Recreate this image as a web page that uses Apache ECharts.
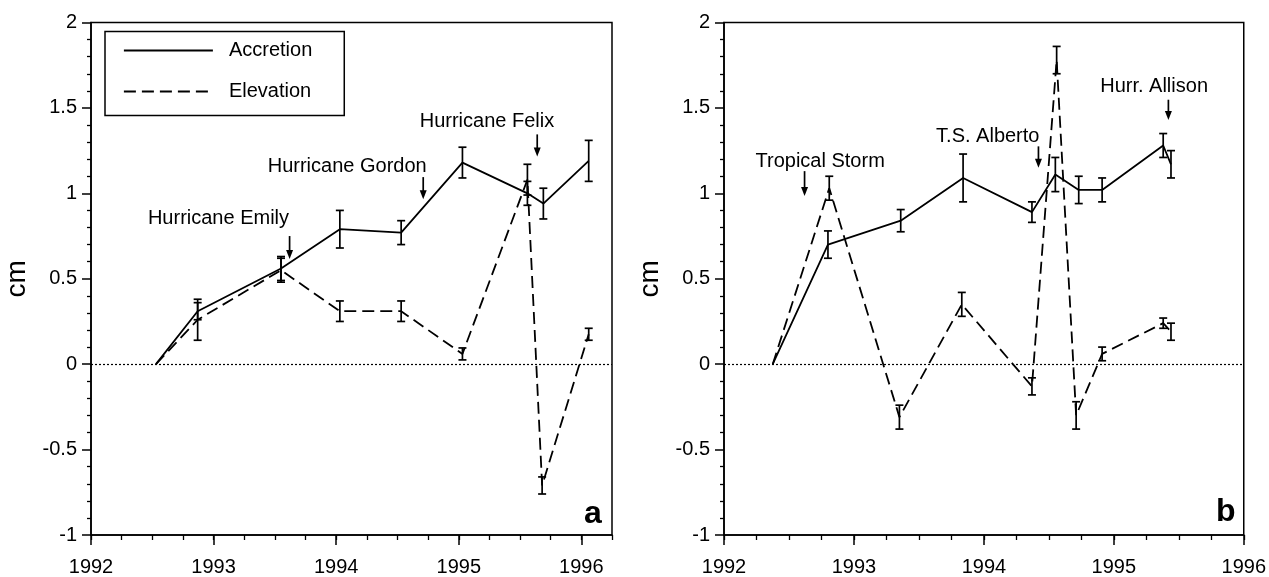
<!DOCTYPE html>
<html>
<head>
<meta charset="utf-8">
<script src="https://cdn.jsdelivr.net/npm/echarts@6/dist/echarts.min.js"></script>
<style>
html,body{margin:0;padding:0;background:#fff;}
#chart{width:1269px;height:577px;}
</style>
</head>
<body>
<div id="chart"></div>
<script>
// ---------- DATA ----------
const yearTicks = [1992, 1993, 1994, 1995, 1996];
const seriesNames = ['Accretion', 'Elevation'];

// Panel a
const accA_years = [1992.53, 1992.87, 1993.55, 1994.03, 1994.53, 1995.03, 1995.56, 1995.69, 1996.06];
const accA_vals  = [0, 0.31, 0.56, 0.79, 0.77, 1.18, 1.00, 0.94, 1.19];
const accA_err   = [0, 0.05, 0.07, 0.11, 0.07, 0.09, 0.07, 0.09, 0.12];
const elevA_years = [1992.53, 1992.87, 1993.55, 1994.03, 1994.53, 1995.03, 1995.56, 1995.68, 1996.06];
const elevA_vals  = [0, 0.26, 0.55, 0.31, 0.31, 0.06, 1.08, -0.71, 0.175];
const elevA_err   = [0, 0.12, 0.07, 0.06, 0.06, 0.035, 0.09, 0.05, 0.035];

// Panel b
const accB_years = [1992.375, 1992.80, 1993.36, 1993.84, 1994.37, 1994.55, 1994.73, 1994.91, 1995.38, 1995.44];
const accB_vals  = [0, 0.70, 0.84, 1.09, 0.89, 1.11, 1.02, 1.02, 1.28, 1.17];
const accB_err   = [0, 0.08, 0.065, 0.14, 0.06, 0.10, 0.08, 0.07, 0.07, 0.08];
const elevB_years = [1992.375, 1992.81, 1993.35, 1993.83, 1994.37, 1994.56, 1994.71, 1994.91, 1995.38, 1995.44];
const elevB_vals  = [0, 1.03, -0.31, 0.35, -0.13, 1.78, -0.30, 0.06, 0.24, 0.19];
const elevB_err   = [0, 0.07, 0.07, 0.07, 0.05, 0.08, 0.08, 0.04, 0.03, 0.05];

// Annotations: [arrowX, arrowTopY, arrowTipY, textX, textY] in data units
const annA_labels = ['Hurricane Emily', 'Hurricane Gordon', 'Hurricane Felix'];
const annA_pos = [
  [1993.62, 0.75, 0.615, 1993.04, 0.85],
  [1994.71, 1.095, 0.965, 1994.09, 1.16],
  [1995.64, 1.345, 1.215, 1995.23, 1.42]
];
const annB_labels = ['Tropical Storm', 'T.S. Alberto', 'Hurr. Allison'];
const annB_pos = [
  [1992.62, 1.13, 0.985, 1992.74, 1.185],
  [1994.42, 1.275, 1.15, 1994.03, 1.335],
  [1995.42, 1.548, 1.43, 1995.31, 1.625]
];

// ---------- BUILD ----------
const FONT = '"Liberation Sans", Arial, sans-serif';
const zip = (xs, ys) => xs.map((x, i) => [x, ys[i]]);
const zip3 = (xs, ys, es) => xs.map((x, i) => [x, ys[i], es[i]]);

function errRender(params, api) {
  const e = api.value(2);
  if (!(e > 0)) return null;
  const x = api.value(0), v = api.value(1);
  const t = api.coord([x, v + e]);
  const b = api.coord([x, v - e]);
  const w = 4;
  const st = { stroke: '#000', lineWidth: 1.7 };
  return {
    type: 'group',
    children: [
      { type: 'line', shape: { x1: t[0], y1: t[1], x2: b[0], y2: b[1] }, style: st },
      { type: 'line', shape: { x1: t[0] - w, y1: t[1], x2: t[0] + w, y2: t[1] }, style: st },
      { type: 'line', shape: { x1: b[0] - w, y1: b[1], x2: b[0] + w, y2: b[1] }, style: st }
    ]
  };
}

function annRender(labels) {
  return function (params, api) {
    const a = api.coord([api.value(0), api.value(1)]);
    const tip = api.coord([api.value(0), api.value(2)]);
    const tp = api.coord([api.value(3), api.value(4)]);
    return {
      type: 'group',
      children: [
        { type: 'line', shape: { x1: a[0], y1: a[1], x2: tip[0], y2: tip[1] - 7 }, style: { stroke: '#000', lineWidth: 1.7 } },
        { type: 'polygon', shape: { points: [[tip[0] - 3.5, tip[1] - 9], [tip[0] + 3.5, tip[1] - 9], [tip[0], tip[1]]] }, style: { fill: '#000' } },
        { type: 'text', style: { text: labels[params.dataIndex], x: tp[0], y: tp[1], align: 'center', verticalAlign: 'middle', font: '20px ' + FONT, fill: '#000' } }
      ]
    };
  };
}

const gridTop = 22.5, gridH = 515.5;
const grids = [
  { left: 91, top: gridTop, width: 521, height: gridH, show: true, borderColor: '#000', borderWidth: 1.5, backgroundColor: 'transparent' },
  { left: 724, top: gridTop, width: 520, height: gridH, show: true, borderColor: '#000', borderWidth: 1.5, backgroundColor: 'transparent' }
];

const axisLabelStyle = { color: '#000', fontSize: 20, fontFamily: FONT };
function majorX(gi, max) {
  return {
    type: 'value', gridIndex: gi, min: 1992, max: max, interval: 1, position: 'bottom',
    axisLine: { show: true, onZero: false, lineStyle: { color: '#000', width: 1.6 } },
    axisTick: { show: true, length: 10, inside: false, customValues: yearTicks, lineStyle: { color: '#000', width: 1.5 } },
    axisLabel: Object.assign({ margin: 22, customValues: yearTicks, formatter: v => String(Math.round(v)) }, axisLabelStyle),
    splitLine: { show: false }
  };
}
function minorX(gi, max) {
  return {
    type: 'value', gridIndex: gi, min: 1992, max: max, interval: 0.25, position: 'bottom',
    axisLine: { show: false, onZero: false },
    axisTick: { show: true, length: 5, inside: false, lineStyle: { color: '#000', width: 1.3 } },
    axisLabel: { show: false },
    splitLine: { show: false }
  };
}
function yAx(gi) {
  return {
    type: 'value', gridIndex: gi, min: -1, max: 2, interval: 0.5,
    name: 'cm', nameLocation: 'middle', nameGap: 60, nameRotate: 90,
    nameTextStyle: { color: '#000', fontSize: 28, fontFamily: FONT },
    axisLine: { show: true, onZero: false, lineStyle: { color: '#000', width: 1.6 } },
    axisTick: { show: true, length: 9, inside: false, lineStyle: { color: '#000', width: 1.5 } },
    minorTick: { show: true, splitNumber: 5, length: 4, lineStyle: { color: '#000', width: 1.3 } },
    axisLabel: Object.assign({ margin: 14 }, axisLabelStyle),
    splitLine: { show: false }
  };
}

const zeroLine = {
  silent: true, symbol: 'none',
  label: { show: false },
  lineStyle: { color: '#000', type: [2, 2], width: 1.2 },
  data: [{ yAxis: 0 }]
};

function lineSeries(name, xi, yi, data, dashed, withZero) {
  const s = {
    name: name, type: 'line', xAxisIndex: xi, yAxisIndex: yi, data: data,
    symbol: 'none', showSymbol: false, smooth: false,
    lineStyle: { color: '#000', width: 1.8, type: dashed ? [12, 6] : 'solid' },
    itemStyle: { color: '#000' },
    z: 3
  };
  if (withZero) s.markLine = zeroLine;
  return s;
}
function errSeries(xi, yi, data) {
  return { name: 'err', type: 'custom', xAxisIndex: xi, yAxisIndex: yi, data: data, renderItem: errRender, z: 4, silent: true };
}
function annSeries(xi, yi, pos, labels) {
  return { name: 'ann', type: 'custom', xAxisIndex: xi, yAxisIndex: yi, data: pos, renderItem: annRender(labels), z: 5, silent: true, clip: false };
}

const option = {
  backgroundColor: '#fff',
  animation: false,
  grid: grids,
  xAxis: [majorX(0, 1996.25), minorX(0, 1996.25), majorX(1, 1996), minorX(1, 1996)],
  yAxis: [yAx(0), yAx(1)],
  legend: {
    data: seriesNames,
    orient: 'vertical',
    left: 105, top: 31.5,
    padding: [9, 32, 14, 18],
    itemGap: 21,
    itemWidth: 89, itemHeight: 20,
    borderColor: '#000', borderWidth: 1.5,
    backgroundColor: '#fff',
    itemStyle: { opacity: 0 },
    lineStyle: { color: '#000', width: 1.8 },
    textStyle: { color: '#000', fontSize: 20, fontFamily: FONT, padding: [0, 0, 0, 11] },
    selectedMode: false
  },
  graphic: [
    { type: 'text', left: 584, top: 498, style: { text: 'a', font: 'bold 32px ' + FONT, fill: '#000' } },
    { type: 'text', left: 1216, top: 496, style: { text: 'b', font: 'bold 32px ' + FONT, fill: '#000' } }
  ],
  series: [
    lineSeries('Accretion', 0, 0, zip(accA_years, accA_vals), false, true),
    lineSeries('Elevation', 0, 0, zip(elevA_years, elevA_vals), true, false),
    errSeries(0, 0, zip3(accA_years, accA_vals, accA_err)),
    errSeries(0, 0, zip3(elevA_years, elevA_vals, elevA_err)),
    annSeries(0, 0, annA_pos, annA_labels),
    lineSeries('Accretion', 2, 1, zip(accB_years, accB_vals), false, true),
    lineSeries('Elevation', 2, 1, zip(elevB_years, elevB_vals), true, false),
    errSeries(2, 1, zip3(accB_years, accB_vals, accB_err)),
    errSeries(2, 1, zip3(elevB_years, elevB_vals, elevB_err)),
    annSeries(2, 1, annB_pos, annB_labels)
  ]
};

const chart = echarts.init(document.getElementById('chart'), null, { renderer: 'canvas' });
chart.setOption(option);
</script>
</body>
</html>
